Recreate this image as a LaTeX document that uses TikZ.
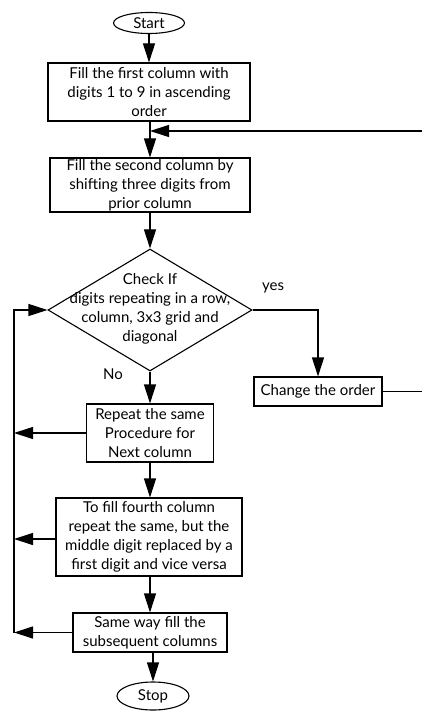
\documentclass[tikz,border=0pt]{standalone}
\usepackage{fontspec}
\setmainfont{Lato}
\usetikzlibrary{shapes.geometric,arrows.meta}

\begin{document}
\begin{tikzpicture}[x=1pt,y=-1pt,
  box/.style={draw,line width=1.1pt,align=center,inner sep=0pt},
  term/.style={draw,ellipse,line width=1.1pt,inner sep=0pt},
  arr/.style={line width=1.1pt,-{Triangle[length=19pt,width=12pt]}},
  font=\fontsize{15}{19}\selectfont]
\clip (0,0) rectangle (422,711);

% main column
\node[term, minimum width=71, minimum height=21] (start) at (149,23) {Start};
\node[box, minimum width=202, minimum height=58] (first) at (149,92)
  {Fill the first column with\\digits 1 to 9 in ascending\\order};
\node[box, minimum width=200, minimum height=54] (second) at (150,185)
  {Fill the second column by\\shifting three digits from\\prior column};
\node[draw, diamond, line width=1.1pt, minimum width=204, minimum height=122, inner sep=0pt] (check) at (150,310) {};
\node[align=center] (checktxt) at (150,309)
  {Check If\\digits repeating in a row,\\column, 3x3 grid and\\diagonal};
\node[box, minimum width=128, minimum height=29] (change) at (318,391.5) {Change the order};
\node[box, minimum width=127, minimum height=58] (repeat) at (150,433)
  {Repeat the same\\Procedure for\\Next column};
\node[box, minimum width=186, minimum height=78] (fourth) at (149,537)
  {To fill fourth column\\repeat the same, but the\\middle digit replaced by a\\first digit and vice versa};
\node[box, minimum width=154, minimum height=39] (same) at (150,632.5)
  {Same way fill the\\subsequent columns};
\node[term, minimum width=72, minimum height=28] (stop) at (153,696) {Stop};

% labels
\node (yes) at (273,288) {yes};
\node (no) at (113,374) {No};

\coordinate (join) at (150,131);
\coordinate (loopx) at (14,0);
\coordinate (backx) at (432,0);

% arrows down
\draw[arr] (start) -- (first);
\draw[arr] (first.south -| second) -- (second);
\draw[arr] (second) -- (check);
\draw[arr] (check.south) -- (repeat);
\draw[arr] (repeat) -- (fourth.north -| repeat);
\draw[arr] (fourth.south -| same) -- (same);
\draw[arr] (same.south -| stop) -- (stop);

% yes branch and back
\draw[arr] (check.east) -| (change.north);
\draw[arr] (change.east) -- (change.east -| backx) |- (join);

% loop on the left
\draw[arr] (repeat.west) -- (repeat.west -| loopx);
\draw[arr] (fourth.west |- 0,539) -- (loopx |- 0,539);
\draw[arr] (same.west) -- (same.west -| loopx);
\draw[arr] (same.west -| loopx) |- (check.west);
\end{tikzpicture}
\end{document}
